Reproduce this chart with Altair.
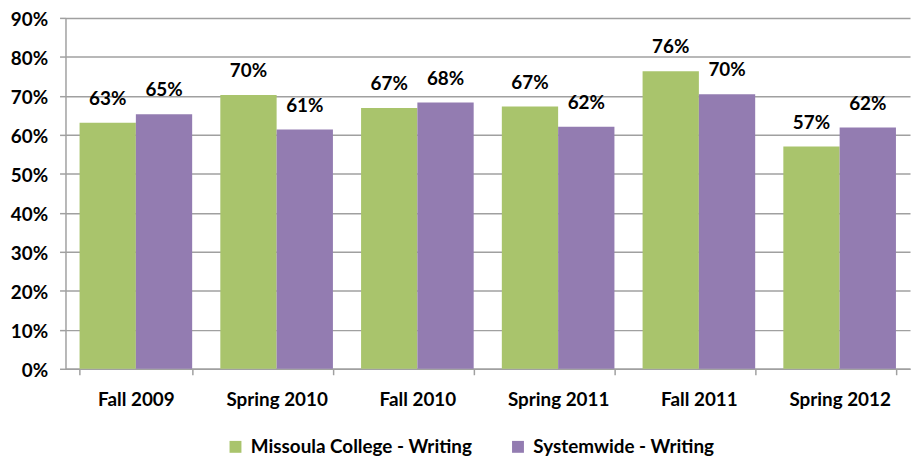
import altair as alt
import pandas as pd

terms = ["Fall 2009", "Spring 2010", "Fall 2010", "Spring 2011", "Fall 2011", "Spring 2012"]
series = ["Missoula College - Writing", "Systemwide - Writing"]
missoula = [0.631, 0.702, 0.669, 0.673, 0.763, 0.570]
systemwide = [0.653, 0.614, 0.683, 0.621, 0.704, 0.619]
colors = ["#A9C46C", "#937CB1"]
y_ticks = [0.0, 0.1, 0.2, 0.3, 0.4, 0.5, 0.6, 0.7, 0.8, 0.9]

rows = []
for t, m, s in zip(terms, missoula, systemwide):
    rows.append({"term": t, "series": series[0], "value": m})
    rows.append({"term": t, "series": series[1], "value": s})
df = pd.DataFrame(rows)

FONT = "Lato"
GRAY = "#A0A0A0"
FS = 19

x = alt.X("term:N", sort=terms, title=None,
          scale=alt.Scale(paddingInner=0.2, paddingOuter=0.1),
          axis=alt.Axis(labelAngle=0, labelFontSize=FS, labelFontWeight="bold",
                        labelColor="black", labelFont=FONT, labelPadding=16,
                        tickBand="extent", tickSize=6, tickColor=GRAY,
                        tickWidth=1.5, domainColor=GRAY, domainWidth=1.5,
                        grid=False, labelLimit=300))
xo = alt.XOffset("series:N", sort=series)
y = alt.Y("value:Q", title=None,
          scale=alt.Scale(domain=[0, 0.9], nice=False, zero=True),
          axis=alt.Axis(values=y_ticks, format=".0%", labelOverlap=False,
                        labelFontSize=FS, labelFontWeight="bold", labelColor="black",
                        labelFont=FONT, labelPadding=12, labelOffset=2, tickSize=6,
                        tickColor=GRAY, tickWidth=1.5,
                        domainColor=GRAY, domainWidth=1.5,
                        gridColor=GRAY, gridWidth=1.5))

bars = alt.Chart(df).mark_bar().encode(
    x=x,
    xOffset=xo,
    y=y,
    color=alt.Color("series:N", sort=series,
                    scale=alt.Scale(domain=series, range=colors),
                    legend=alt.Legend(title=None, orient="none", direction="horizontal",
                                      legendX=162, legendY=423,
                                      symbolType="square", symbolSize=144,
                                      symbolStrokeWidth=0, labelFontSize=FS,
                                      labelFontWeight="bold", labelFont=FONT,
                                      labelColor="black", columnPadding=36,
                                      labelOffset=6, labelLimit=400)),
)

labels = alt.Chart(df).mark_text(
    fontSize=FS, fontWeight="bold", font=FONT, color="black",
    baseline="alphabetic", dy=-18
).encode(
    x=x,
    xOffset=xo,
    y=y,
    text=alt.Text("value:Q", format=".0%"),
)

chart = (bars + labels).properties(
    width=852, height=354,
    autosize=alt.AutoSizeParams(type="none"),
    padding={"left": 58, "top": 8, "right": 2, "bottom": 86},
).configure_view(stroke=None)

chart.save("out.html", embed_options={"renderer": "svg", "actions": False})
